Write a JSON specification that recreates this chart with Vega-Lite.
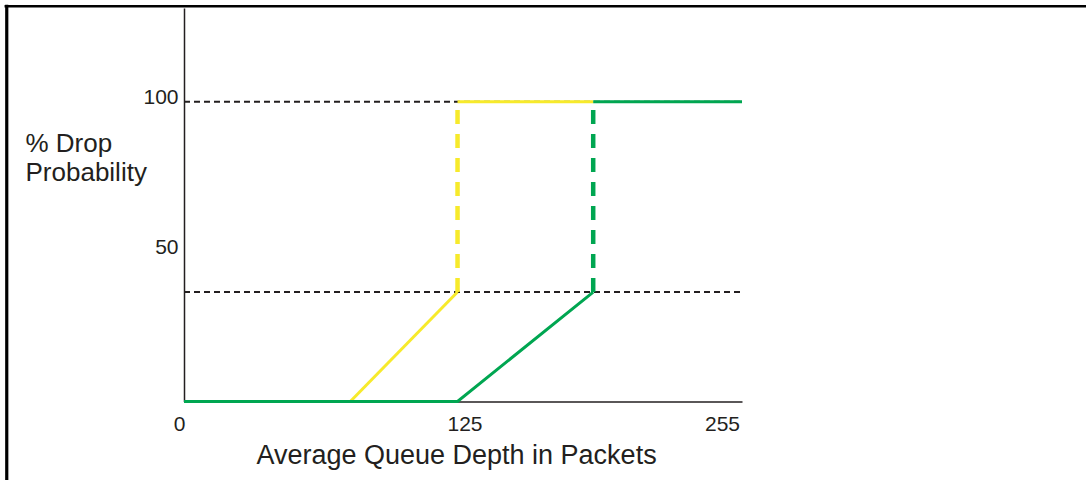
{
  "$schema": "https://vega.github.io/schema/vega-lite/v6.json",
  "width": 558,
  "height": 393.5,
  "autosize": {"type": "none"},
  "padding": {"left": 184, "top": 8, "right": 344, "bottom": 78.5},
  "background": "white",
  "config": {"view": {"stroke": null}, "font": "Liberation Sans"},
  "datasets": {
    "lines": [
      {"series": "yellow", "seg": "y1", "style": "solid", "x": 76, "y": 0, "ord": 1},
      {"series": "yellow", "seg": "y1", "style": "solid", "x": 125, "y": 36.5, "ord": 2},
      {"series": "yellow", "seg": "y2", "style": "dashed", "x": 125, "y": 36.5, "ord": 1},
      {"series": "yellow", "seg": "y2", "style": "dashed", "x": 125, "y": 100, "ord": 2},
      {"series": "yellow", "seg": "y3", "style": "solid", "x": 125, "y": 100, "ord": 1},
      {"series": "yellow", "seg": "y3", "style": "solid", "x": 187, "y": 100, "ord": 2},
      {"series": "green", "seg": "g1", "style": "solid", "x": 0, "y": 0, "ord": 1},
      {"series": "green", "seg": "g1", "style": "solid", "x": 125, "y": 0, "ord": 2},
      {"series": "green", "seg": "g1", "style": "solid", "x": 187, "y": 36.5, "ord": 3},
      {"series": "green", "seg": "g2", "style": "dashed", "x": 187, "y": 36.5, "ord": 1},
      {"series": "green", "seg": "g2", "style": "dashed", "x": 187, "y": 100, "ord": 2},
      {"series": "green", "seg": "g3", "style": "solid", "x": 187, "y": 100, "ord": 1},
      {"series": "green", "seg": "g3", "style": "solid", "x": 255, "y": 100, "ord": 2}
    ],
    "refs": [{"level": 100}, {"level": 36.5}]
  },
  "layer": [
    {
      "data": {"values": [{}]},
      "mark": {"type": "rule", "color": "#000000", "strokeWidth": 2.6},
      "encoding": {
        "x": {"datum": -82, "type": "quantitative", "scale": {"domain": [0, 255], "nice": false, "zero": false}},
        "x2": {"datum": 420},
        "y": {"datum": 131.85, "type": "quantitative", "scale": {"domain": [0, 131.25], "nice": false, "zero": false}}
      }
    },
    {
      "data": {"values": [{}]},
      "mark": {"type": "rule", "color": "#000000", "strokeWidth": 3.2},
      "encoding": {
        "x": {"datum": -81, "type": "quantitative", "scale": {"domain": [0, 255], "nice": false, "zero": false}},
        "y": {"datum": 132.3, "type": "quantitative", "scale": {"domain": [0, 131.25], "nice": false, "zero": false}},
        "y2": {"datum": -30}
      }
    },
    {
      "data": {"name": "refs"},
      "mark": {"type": "rule", "color": "#231F20", "strokeWidth": 2, "strokeDash": [6, 4]},
      "encoding": {
        "x": {
          "datum": 0,
          "type": "quantitative",
          "scale": {"domain": [0, 255], "nice": false, "zero": false},
          "axis": {
            "title": "Average Queue Depth in Packets",
            "values": [0, 125, 255],
            "ticks": false,
            "tickSize": 0,
            "grid": false,
            "domainColor": "#231F20",
            "domainWidth": 1.5,
            "labelFont": "Liberation Sans",
            "labelFontSize": 21,
            "labelColor": "#231F20",
            "labelPadding": 12,
            "labelBaseline": "top",
            "labelFlush": false,
            "labelOverlap": false,
            "labelOffset": {
              "condition": [
                {"test": "datum.value == 0", "value": -5},
                {"test": "datum.value == 125", "value": 7},
                {"test": "datum.value == 255", "value": -20}
              ],
              "value": 0
            },
            "titleFont": "Liberation Sans",
            "titleFontSize": 27,
            "titleFontWeight": "normal",
            "titleColor": "#231F20",
            "titleX": 272,
            "titleY": 62,
            "titleAlign": "center",
            "titleBaseline": "alphabetic"
          }
        },
        "x2": {"datum": 255},
        "y": {
          "field": "level",
          "type": "quantitative",
          "scale": {"domain": [0, 131.25], "nice": false, "zero": false},
          "axis": {
            "title": ["% Drop", "Probability"],
            "values": [50, 100],
            "ticks": false,
            "tickSize": 0,
            "grid": false,
            "domainColor": "#231F20",
            "domainWidth": 1.5,
            "labelFont": "Liberation Sans",
            "labelFontSize": 21,
            "labelColor": "#231F20",
            "labelPadding": 6,
            "labelBaseline": "alphabetic",
            "labelOffset": 2,
            "labelFlush": false,
            "labelOverlap": false,
            "titleFont": "Liberation Sans",
            "titleFontSize": 26,
            "titleFontWeight": "normal",
            "titleColor": "#231F20",
            "titleAngle": 0,
            "titleAlign": "left",
            "titleBaseline": "alphabetic",
            "titleX": -159,
            "titleY": 143,
            "titleLineHeight": 29
          }
        }
      }
    },
    {
      "data": {"name": "lines"},
      "transform": [{"filter": "datum.series == 'yellow' && datum.style == 'solid'"}],
      "mark": {"type": "line", "color": "#F7EA2B", "strokeWidth": 3},
      "encoding": {
        "x": {"field": "x", "type": "quantitative", "scale": {"domain": [0, 255], "nice": false, "zero": false}},
        "y": {"field": "y", "type": "quantitative", "scale": {"domain": [0, 131.25], "nice": false, "zero": false}},
        "detail": {"field": "seg"},
        "order": {"field": "ord"}
      }
    },
    {
      "data": {"name": "lines"},
      "transform": [{"filter": "datum.series == 'yellow' && datum.style == 'dashed'"}],
      "mark": {"type": "line", "color": "#F7EA2B", "strokeWidth": 4.5, "strokeDash": [14, 10]},
      "encoding": {
        "x": {"field": "x", "type": "quantitative", "scale": {"domain": [0, 255], "nice": false, "zero": false}},
        "y": {"field": "y", "type": "quantitative", "scale": {"domain": [0, 131.25], "nice": false, "zero": false}},
        "detail": {"field": "seg"},
        "order": {"field": "ord"}
      }
    },
    {
      "data": {"name": "lines"},
      "transform": [{"filter": "datum.series == 'green' && datum.style == 'solid'"}],
      "mark": {"type": "line", "color": "#00A651", "strokeWidth": 3},
      "encoding": {
        "x": {"field": "x", "type": "quantitative", "scale": {"domain": [0, 255], "nice": false, "zero": false}},
        "y": {"field": "y", "type": "quantitative", "scale": {"domain": [0, 131.25], "nice": false, "zero": false}},
        "detail": {"field": "seg"},
        "order": {"field": "ord"}
      }
    },
    {
      "data": {"name": "lines"},
      "transform": [{"filter": "datum.series == 'green' && datum.style == 'dashed'"}],
      "mark": {"type": "line", "color": "#00A651", "strokeWidth": 4.5, "strokeDash": [14, 10]},
      "encoding": {
        "x": {"field": "x", "type": "quantitative", "scale": {"domain": [0, 255], "nice": false, "zero": false}},
        "y": {"field": "y", "type": "quantitative", "scale": {"domain": [0, 131.25], "nice": false, "zero": false}},
        "detail": {"field": "seg"},
        "order": {"field": "ord"}
      }
    }
  ]
}
